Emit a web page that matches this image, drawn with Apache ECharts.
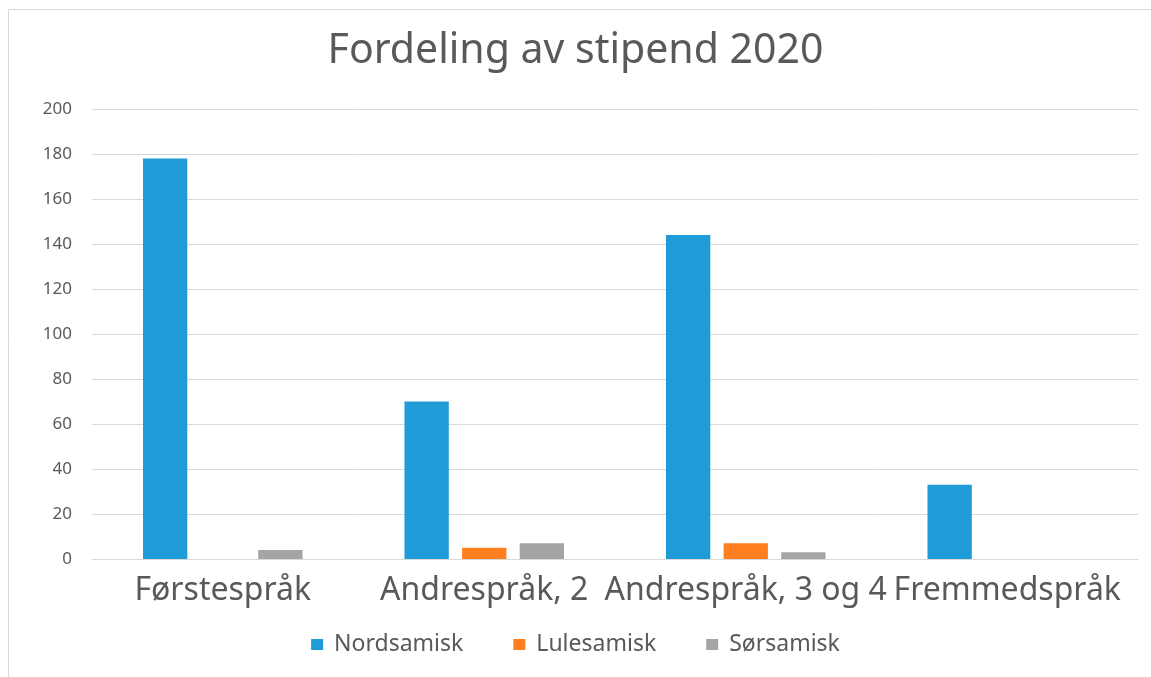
<!DOCTYPE html>
<html><head><meta charset="utf-8">
<script src="https://cdn.jsdelivr.net/npm/echarts@6/dist/echarts.min.js"></script>
<style>html,body{margin:0;padding:0;background:#fff}#c{width:1151px;height:677px}</style>
</head><body><div id="c"></div>
<script>
const categories = ['Førstespråk', 'Andrespråk, 2', 'Andrespråk, 3 og 4', 'Fremmedspråk'];
const seriesNames = ['Nordsamisk', 'Lulesamisk', 'Sørsamisk'];
const nordsamisk = [178, 70, 144, 33];
const lulesamisk = [0, 5, 7, 0];
const sorsamisk = [4, 7, 3, 0];
const colors = ['#1F9BD7', '#FF7F1E', '#A5A5A5'];
const values = [nordsamisk, lulesamisk, sorsamisk];

const chart = echarts.init(document.getElementById('c'));
chart.setOption({
  animation: false,
  graphic: [{type: 'rect', shape: {x: 8.5, y: 9.5, width: 1160, height: 680}, style: {fill: 'none', stroke: '#d9d9d9', lineWidth: 1}, silent: true}],
  title: {text: 'Fordeling av stipend 2020', left: 'center', top: 26,
    textStyle: {fontFamily: 'Noto Sans', fontWeight: 'normal', fontSize: 41, color: '#595959'}},
  legend: {data: seriesNames, top: 628, left: 'center', itemWidth: 12, itemHeight: 11, itemGap: 50, icon: 'rect',
    textStyle: {fontFamily: 'Noto Sans', fontSize: 23, color: '#595959', padding: [0, 0, 0, 6]}},
  grid: {left: 92, right: 13, top: 109, bottom: 118, containLabel: false},
  xAxis: {type: 'category', data: categories,
    axisLine: {lineStyle: {color: '#d9d9d9', width: 1}}, axisTick: {show: false},
    axisLabel: {interval: 0, hideOverlap: false, fontFamily: 'Noto Sans', fontSize: 32, color: '#595959', margin: 16}},
  yAxis: {type: 'value', min: 0, max: 200, interval: 20,
    axisLine: {show: false}, axisTick: {show: false},
    splitLine: {lineStyle: {color: '#d9d9d9', width: 1}},
    axisLabel: {fontFamily: 'Noto Sans', fontSize: 17, color: '#595959', margin: 20}},
  series: seriesNames.map((n, i) => ({
    name: n, type: 'bar', data: values[i], barGap: '30%', barCategoryGap: '39%',
    itemStyle: {color: colors[i]}
  }))
});
</script></body></html>
